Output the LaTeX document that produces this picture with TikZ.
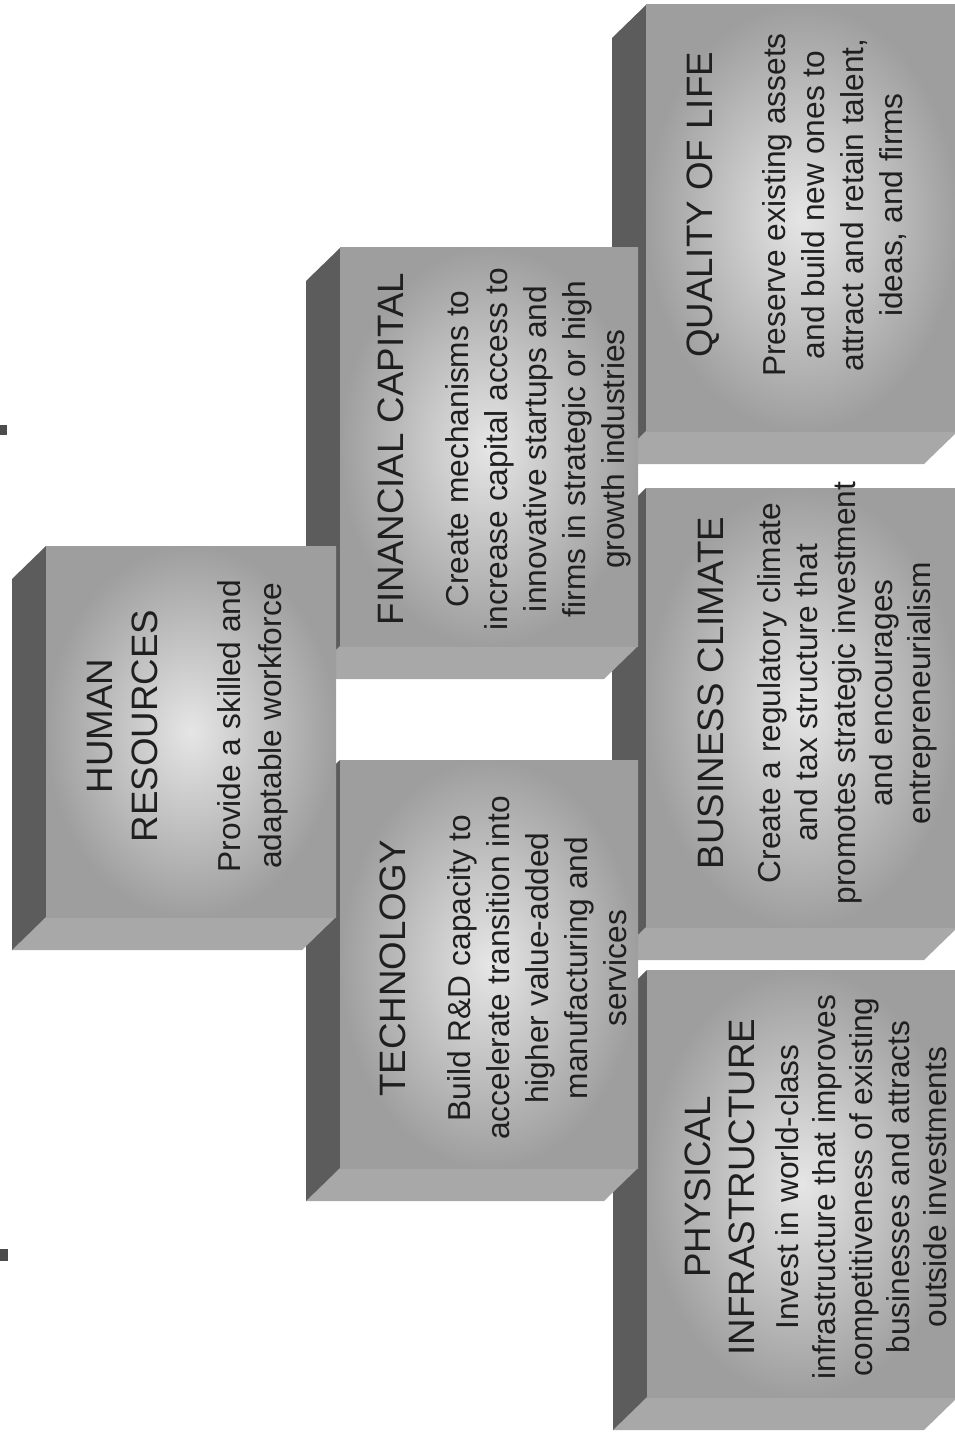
\documentclass[tikz,border=0pt]{standalone}
\usepackage{fontspec}
\setmainfont{Liberation Sans}
\usepackage{tikz}
\usetikzlibrary{positioning}
\definecolor{sidedark}{gray}{0.36}
\definecolor{faceedge}{gray}{0.62}
\definecolor{facecentre}{gray}{0.90}
\definecolor{bottomface}{gray}{0.66}
\definecolor{inktext}{gray}{0.12}

\begin{document}
\begin{tikzpicture}[
    x=0.5pt, y=-0.5pt,
    frontface/.style={inner color=facecentre, outer color=faceedge},
    darkside/.style={fill=sidedark},
    lowside/.style={fill=bottomface},
    boxtitle/.style={rotate=90, anchor=north, inner sep=0pt, align=center, text=inktext, font=\fontsize{18.35}{22.5}\selectfont},
    boxtext/.style={rotate=90, anchor=north, inner sep=0pt, align=center, text=inktext, font=\fontsize{15.85}{19.5}\selectfont}
]
    \useasboundingbox (0,0) rectangle (954,1439);

    % Boxes, right column first so the left ones cover its edges
    \foreach \xa/\ya/\xb/\yb in {646/5/958/431, 646/488/958/927, 647/970/958/1397,
                                 340/248/638/646, 340/760/638/1168, 46/546/336/917}{
        \fill[lowside] (\xa,\yb) -- ++(-34,33) -- (\xb-34,\yb+33) -- (\xb,\yb) -- cycle;
        \fill[darkside] (\xa,\ya) -- ++(-34,33) -- (\xa-34,\yb+33) -- (\xa,\yb) -- cycle;
        \shade[frontface] (\xa,\ya) rectangle (\xb,\yb);
    }

    % Scan marks
    \fill[black!70] (0,425) rectangle (7,435);
    \fill[black!70] (0,1249) rectangle (8,1261);

    % Human resources
    \node[boxtitle] (hrtitle) at (87,726) {HUMAN\\RESOURCES};
    \node[boxtext, font=\fontsize{15.85}{20.5}\selectfont] (hrtext) at (217,726) {Provide a skilled and\\adaptable workforce};

    % Financial capital and technology
    \node[boxtitle] (fintitle) at (377,449) {FINANCIAL CAPITAL};
    \node[boxtext] (fintext) at (445,449) {Create mechanisms to\\increase capital access to\\innovative startups and\\firms in strategic or high\\growth industries};
    \node[boxtitle] (techtitle) at (379,968) {TECHNOLOGY};
    \node[boxtext] (techtext) at (447,968) {Build R\&D capacity to\\accelerate transition into\\higher value-added\\manufacturing and\\services};

    % Quality of life, business climate, infrastructure
    \node[boxtitle] (qoltitle) at (686,205) {QUALITY OF LIFE};
    \node[boxtext] (qoltext) at (762,205) {Preserve existing assets\\and build new ones to\\attract and retain talent,\\ideas, and firms};
    \node[boxtitle] (bctitle) at (697,693) {BUSINESS CLIMATE};
    \node[boxtext, font=\fontsize{15.85}{18.75}\selectfont] (bctext) at (757,693) {Create a regulatory climate\\and tax structure that\\promotes strategic investment\\and encourages\\entrepreneurialism};
    \node[boxtitle, font=\fontsize{18.35}{22}\selectfont] (pititle) at (684,1187) {PHYSICAL\\INFRASTRUCTURE};
    \node[boxtext, font=\fontsize{15.85}{18.5}\selectfont] (pitext) at (775,1187) {Invest in world-class\\infrastructure that improves\\competitiveness of existing\\businesses and attracts\\outside investments};
\end{tikzpicture}
\end{document}
